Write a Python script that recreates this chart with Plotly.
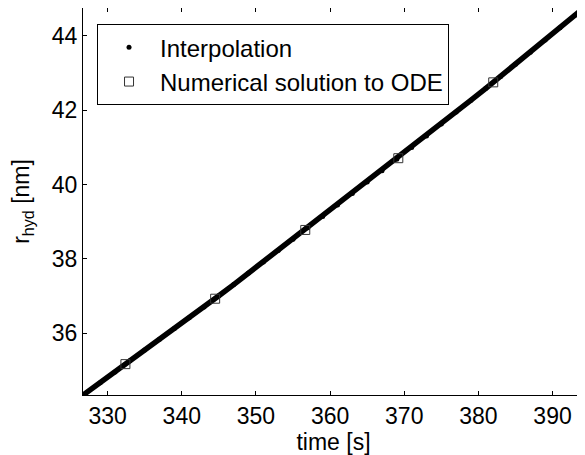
import plotly.graph_objects as go

# Interpolated trajectory
t_interp = [326.7, 329, 331, 333, 335, 337, 339, 341, 343, 345, 347, 349, 351, 353, 355,
            357, 359, 361, 363, 365, 367, 369, 371, 373, 375, 377, 379, 381, 383, 385,
            387, 389, 391, 393, 395]
r_interp = [34.34, 34.67, 34.96, 35.26, 35.55, 35.84, 36.13, 36.42, 36.71, 37.01, 37.31,
            37.62, 37.92, 38.23, 38.53, 38.84, 39.14, 39.45, 39.76, 40.07, 40.37, 40.68,
            41.00, 41.31, 41.63, 41.95, 42.27, 42.59, 42.91, 43.24, 43.56, 43.89, 44.22,
            44.55, 44.88]

# Numerical solution to ODE
t_ode = [332.4, 344.5, 356.65, 369.2, 382.0]
r_ode = [35.17, 36.93, 38.78, 40.71, 42.75]

x_ticks = [330, 340, 350, 360, 370, 380, 390]
y_ticks = [36, 38, 40, 42, 44]

FONT = "Liberation Sans, Arial, sans-serif"
FS = 23

fig = go.Figure()
fig.add_trace(go.Scatter(x=t_interp, y=r_interp, mode="lines",
                         line=dict(color="black", width=5.5), showlegend=False,
                         hoverinfo="skip"))
fig.add_trace(go.Scatter(x=t_interp, y=r_interp, mode="markers", name="Interpolation",
                         marker=dict(color="black", size=5, symbol="circle")))
fig.add_trace(go.Scatter(x=t_ode, y=r_ode, mode="markers", name="Numerical solution to ODE",
                         marker=dict(symbol="square-open", size=9, color="#333333",
                                     line=dict(width=1))))

axis_common = dict(showline=True, linecolor="black", linewidth=1, mirror="allticks",
                   ticks="inside", ticklen=4, tickcolor="black", tickwidth=1,
                   showgrid=False, zeroline=False,
                   tickfont=dict(family=FONT, size=FS, color="black"))

fig.update_xaxes(range=[326.68, 394.24], tickvals=x_ticks,
                 title=dict(text="time [s]", font=dict(family=FONT, size=FS, color="black"),
                            standoff=6),
                 **axis_common)
fig.update_yaxes(range=[34.34, 44.75], tickvals=y_ticks,
                 title=dict(text="r<sub>hyd</sub> [nm]", font=dict(family=FONT, size=FS, color="black"),
                            standoff=24),
                 **axis_common)

# The page body adds an 8px margin, so the figure is sized to the remaining window.
fig.update_layout(
    width=577, height=447,
    margin=dict(l=75, r=1, t=0, b=60),
    paper_bgcolor="white", plot_bgcolor="white",
    font=dict(family=FONT, size=FS, color="black"),
    legend=dict(x=0.028, y=0.958, xanchor="left", yanchor="top",
                bordercolor="black", borderwidth=1, bgcolor="white",
                font=dict(family=FONT, size=24, color="black"),
                itemwidth=52, tracegroupgap=0),
)

fig.write_html("out.html")
